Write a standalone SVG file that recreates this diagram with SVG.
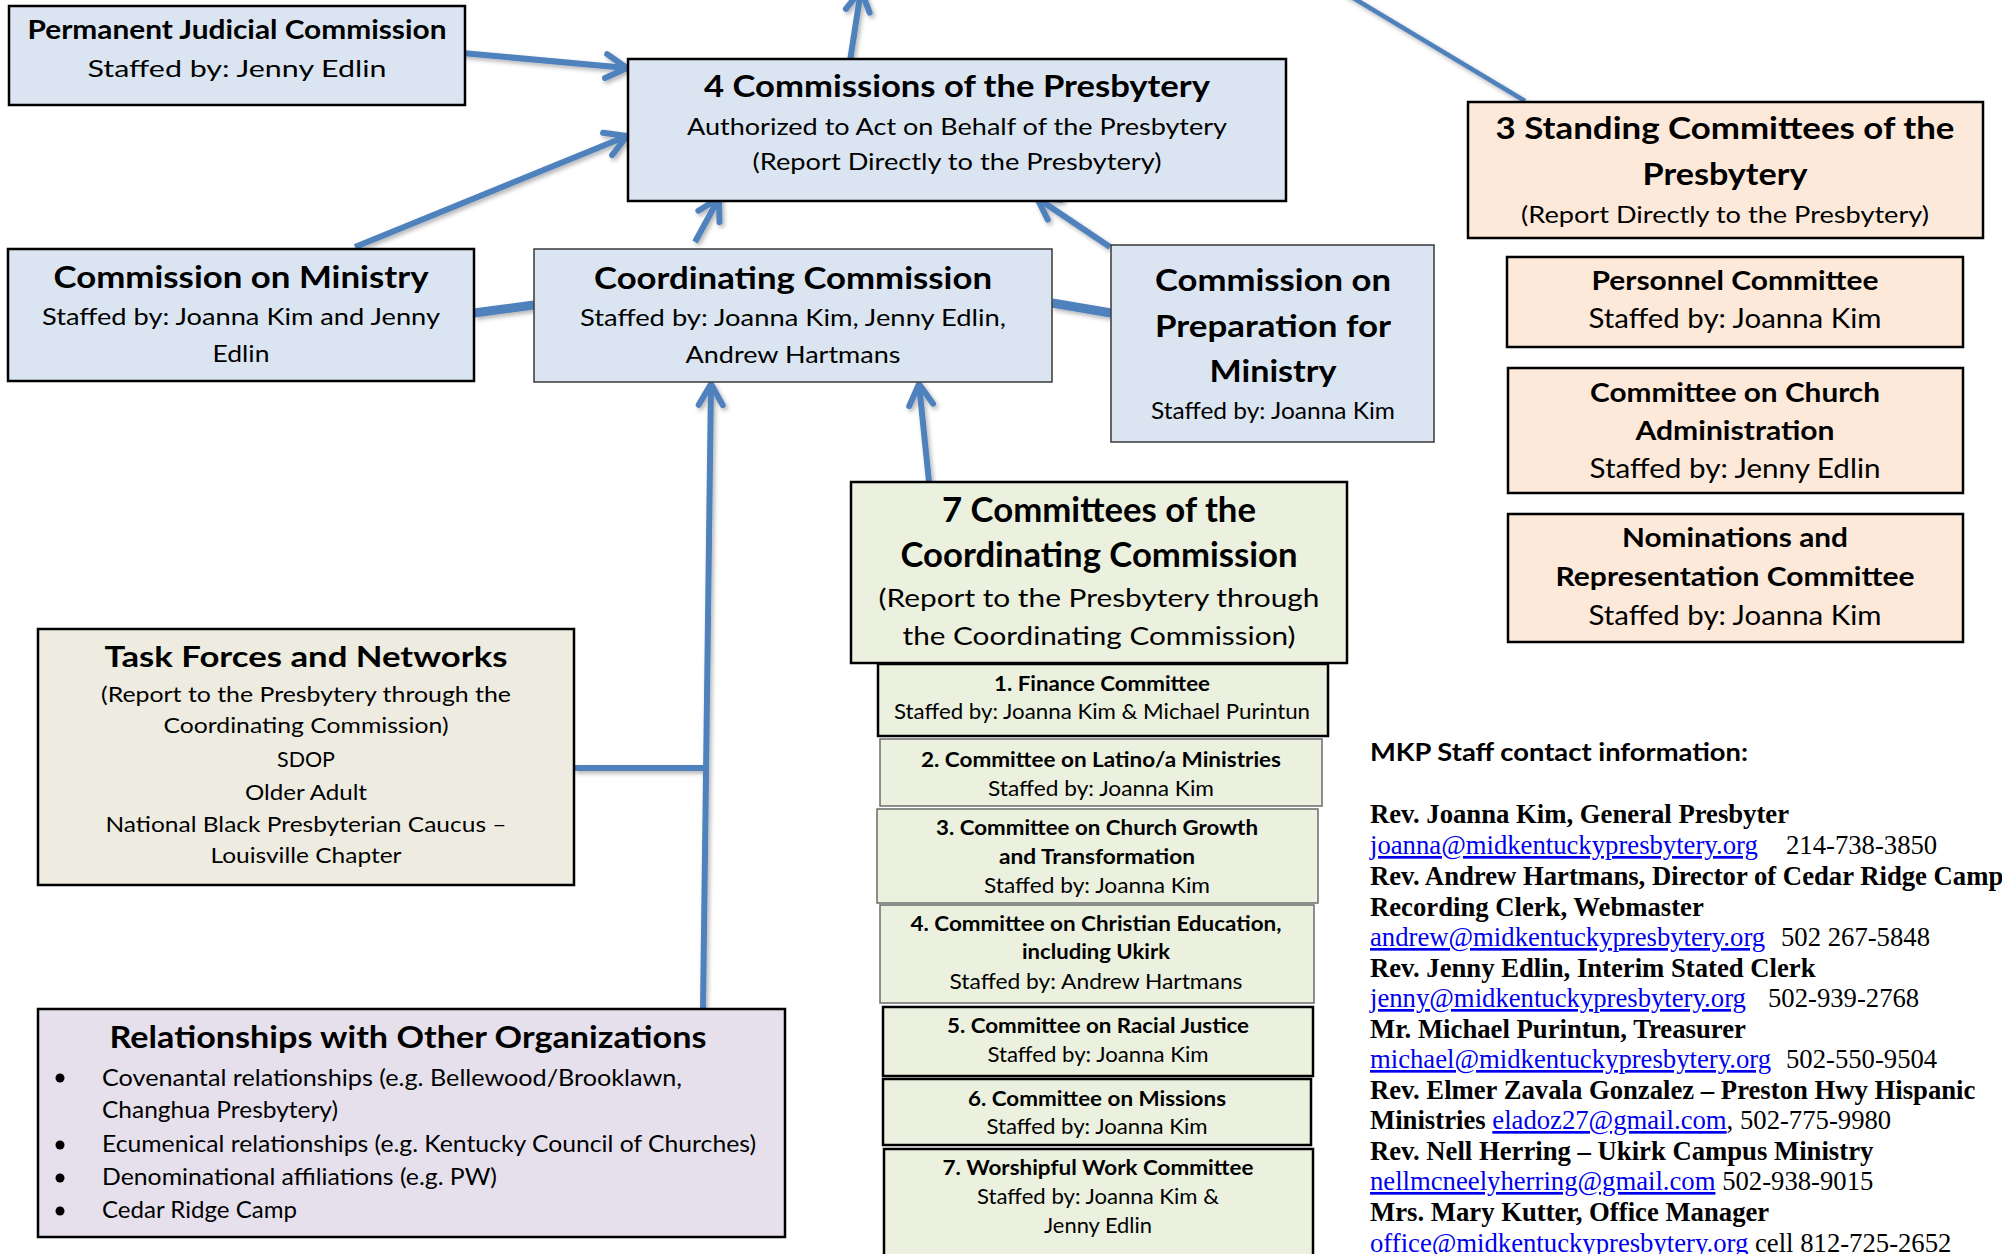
<svg xmlns="http://www.w3.org/2000/svg" width="2002" height="1254" viewBox="0 0 2002 1254">
<style>
.bg{fill:#ffffff}
.blue{fill:#DBE5F1;stroke:#000;stroke-width:2.5}
.blue2{fill:#DBE5F1;stroke:#3a3a3a;stroke-width:1.5}
.peach{fill:#FDE9D9;stroke:#000;stroke-width:2.5}
.green{fill:#EBF1DE;stroke:#000;stroke-width:2.5}
.green2{fill:#EBF1DE;stroke:#6b6b6b;stroke-width:1.5}
.tan{fill:#EEECE1;stroke:#000;stroke-width:2.5}
.lav{fill:#E5E0EC;stroke:#000;stroke-width:2.5}
text{font-family:Lato,"Open Sans","Liberation Sans",sans-serif;fill:#000}
.c{text-anchor:middle}
.b{font-weight:bold}
.ser{font-family:"Liberation Serif","Times New Roman",serif;font-size:26.7px}
.lnk{fill:#0000EE;text-decoration:underline}
.con{fill:none;stroke:#4F81BD;stroke-width:6;stroke-linecap:butt}
.thick{stroke-width:9}
.thin{stroke-width:4.5}
</style>
<defs>
<marker id="ah" markerUnits="userSpaceOnUse" markerWidth="40" markerHeight="40" refX="0" refY="0" orient="auto" overflow="visible">
<path d="M-21,-12 L0,0 L-21,12" fill="none" stroke="#4F81BD" stroke-width="6" stroke-linejoin="round" stroke-linecap="round"/>
</marker>
<filter id="sh" x="-20%" y="-20%" width="140%" height="140%">
<feDropShadow dx="2" dy="2.5" stdDeviation="2" flood-color="#000" flood-opacity="0.3"/>
</filter>
</defs>
<rect class="bg" x="0" y="0" width="2002" height="1254"/>

<g id="connectors" filter="url(#sh)">
<line class="con" x1="462" y1="53" x2="627" y2="68" marker-end="url(#ah)"/>
<line class="con" x1="355" y1="247" x2="627" y2="136" marker-end="url(#ah)"/>
<line class="con" x1="695" y1="242" x2="719" y2="198" marker-end="url(#ah)"/>
<line class="con" x1="1110" y1="247" x2="1037" y2="198" marker-end="url(#ah)"/>
<line class="con" x1="850" y1="61" x2="861" y2="-10" marker-end="url(#ah)"/>
<line class="con thin" x1="1525" y1="101" x2="1340" y2="-10"/>
<line class="con thick" x1="474" y1="313" x2="534" y2="305"/>
<line class="con thick" x1="1052" y1="303" x2="1111" y2="313"/>
<line class="con" x1="703" y1="1009" x2="711" y2="384" marker-end="url(#ah)"/>
<line class="con" x1="574" y1="768" x2="706" y2="768"/>
<line class="con" x1="929" y1="482" x2="919" y2="384" marker-end="url(#ah)"/>
</g>

<g id="pjc">
<rect class="blue" x="9" y="6" width="456" height="99"/>
<text class="c b" x="237" y="39" font-size="27" textLength="419" lengthAdjust="spacingAndGlyphs">Permanent Judicial Commission</text>
<text class="c" x="237" y="77" font-size="24" textLength="299" lengthAdjust="spacingAndGlyphs">Staffed by:  Jenny Edlin</text>
</g>

<g id="four-commissions">
<rect class="blue" x="628" y="59" width="658" height="142"/>
<text class="c b" x="957" y="97" font-size="30" textLength="506" lengthAdjust="spacingAndGlyphs">4 Commissions of the Presbytery</text>
<text class="c" x="957" y="135" font-size="24" textLength="540" lengthAdjust="spacingAndGlyphs">Authorized to Act on Behalf of the Presbytery</text>
<text class="c" x="957" y="170" font-size="24" textLength="409" lengthAdjust="spacingAndGlyphs">(Report Directly to the Presbytery)</text>
</g>

<g id="commission-ministry">
<rect class="blue" x="8" y="249" width="466" height="132"/>
<text class="c b" x="241" y="288" font-size="30.5" textLength="375" lengthAdjust="spacingAndGlyphs">Commission on Ministry</text>
<text class="c" x="241" y="325" font-size="24" textLength="398" lengthAdjust="spacingAndGlyphs">Staffed by: Joanna Kim and Jenny</text>
<text class="c" x="241" y="362" font-size="24" textLength="57" lengthAdjust="spacingAndGlyphs">Edlin</text>
</g>

<g id="coordinating">
<rect class="blue2" x="534" y="249" width="518" height="133"/>
<text class="c b" x="793" y="289" font-size="30.5" textLength="398" lengthAdjust="spacingAndGlyphs">Coordinating Commission</text>
<text class="c" x="793" y="326" font-size="24" textLength="426" lengthAdjust="spacingAndGlyphs">Staffed by: Joanna Kim, Jenny Edlin,</text>
<text class="c" x="793" y="363" font-size="24" textLength="215" lengthAdjust="spacingAndGlyphs">Andrew Hartmans</text>
</g>

<g id="preparation">
<rect class="blue2" x="1111" y="245" width="323" height="197"/>
<text class="c b" x="1273" y="291" font-size="30.5" textLength="236" lengthAdjust="spacingAndGlyphs">Commission on</text>
<text class="c b" x="1273" y="337" font-size="30.5" textLength="236" lengthAdjust="spacingAndGlyphs">Preparation for</text>
<text class="c b" x="1273" y="382" font-size="30.5" textLength="127" lengthAdjust="spacingAndGlyphs">Ministry</text>
<text class="c" x="1273" y="419" font-size="23" textLength="244" lengthAdjust="spacingAndGlyphs">Staffed by: Joanna Kim</text>
</g>

<g id="standing">
<rect class="peach" x="1468" y="102" width="515" height="136"/>
<text class="c b" x="1725" y="139" font-size="29.5" textLength="459" lengthAdjust="spacingAndGlyphs">3 Standing Committees of the</text>
<text class="c b" x="1725" y="185" font-size="29.5" textLength="165" lengthAdjust="spacingAndGlyphs">Presbytery</text>
<text class="c" x="1725" y="223" font-size="23" textLength="408" lengthAdjust="spacingAndGlyphs">(Report Directly to the Presbytery)</text>
</g>

<g id="personnel">
<rect class="peach" x="1507" y="257" width="456" height="90"/>
<text class="c b" x="1735" y="290" font-size="26" textLength="287" lengthAdjust="spacingAndGlyphs">Personnel Committee</text>
<text class="c" x="1735" y="328" font-size="26" textLength="293" lengthAdjust="spacingAndGlyphs">Staffed by: Joanna Kim</text>
</g>

<g id="church-administration">
<rect class="peach" x="1508" y="368" width="455" height="125"/>
<text class="c b" x="1735" y="402" font-size="26" textLength="290" lengthAdjust="spacingAndGlyphs">Committee on Church</text>
<text class="c b" x="1735" y="440" font-size="26" textLength="199" lengthAdjust="spacingAndGlyphs">Administration</text>
<text class="c" x="1735" y="478" font-size="26" textLength="291" lengthAdjust="spacingAndGlyphs">Staffed by: Jenny Edlin</text>
</g>

<g id="nominations">
<rect class="peach" x="1508" y="514" width="455" height="128"/>
<text class="c b" x="1735" y="547" font-size="26" textLength="226" lengthAdjust="spacingAndGlyphs">Nominations and</text>
<text class="c b" x="1735" y="586" font-size="26" textLength="359" lengthAdjust="spacingAndGlyphs">Representation Committee</text>
<text class="c" x="1735" y="625" font-size="26" textLength="293" lengthAdjust="spacingAndGlyphs">Staffed by: Joanna Kim</text>
</g>

<g id="seven-committees">
<rect class="green" x="851" y="482" width="496" height="181"/>
<text class="c b" x="1099" y="522" font-size="33.5" textLength="314" lengthAdjust="spacingAndGlyphs">7 Committees of the</text>
<text class="c b" x="1099" y="567" font-size="33.5" textLength="397" lengthAdjust="spacingAndGlyphs">Coordinating Commission</text>
<text class="c" x="1099" y="607" font-size="25" textLength="441" lengthAdjust="spacingAndGlyphs">(Report to the Presbytery through</text>
<text class="c" x="1099" y="645" font-size="25" textLength="393" lengthAdjust="spacingAndGlyphs">the Coordinating Commission)</text>
</g>

<g id="finance">
<rect class="green" x="878" y="664" width="450" height="72"/>
<text class="c b" x="1102" y="691" font-size="21" textLength="216" lengthAdjust="spacingAndGlyphs">1. Finance Committee</text>
<text class="c" x="1102" y="719" font-size="21" textLength="416" lengthAdjust="spacingAndGlyphs">Staffed by: Joanna Kim &amp; Michael Purintun</text>
</g>

<g id="latino">
<rect class="green2" x="880" y="739" width="442" height="67"/>
<text class="c b" x="1101" y="767" font-size="21" textLength="360" lengthAdjust="spacingAndGlyphs">2. Committee on Latino/a Ministries</text>
<text class="c" x="1101" y="796" font-size="21" textLength="226" lengthAdjust="spacingAndGlyphs">Staffed by:  Joanna Kim</text>
</g>

<g id="church-growth">
<rect class="green2" x="877" y="809" width="441" height="94"/>
<text class="c b" x="1097" y="835" font-size="21" textLength="322" lengthAdjust="spacingAndGlyphs">3. Committee on Church Growth</text>
<text class="c b" x="1097" y="864" font-size="21" textLength="196" lengthAdjust="spacingAndGlyphs">and Transformation</text>
<text class="c" x="1097" y="893" font-size="21" textLength="226" lengthAdjust="spacingAndGlyphs">Staffed by:  Joanna Kim</text>
</g>

<g id="christian-education">
<rect class="green2" x="880" y="905" width="434" height="98"/>
<text class="c b" x="1096" y="931" font-size="21" textLength="371" lengthAdjust="spacingAndGlyphs">4. Committee on Christian Education,</text>
<text class="c b" x="1096" y="959" font-size="21" textLength="148" lengthAdjust="spacingAndGlyphs">including Ukirk</text>
<text class="c" x="1096" y="989" font-size="21" textLength="293" lengthAdjust="spacingAndGlyphs">Staffed by:  Andrew Hartmans</text>
</g>

<g id="racial-justice">
<rect class="green" x="883" y="1007" width="430" height="69"/>
<text class="c b" x="1098" y="1033" font-size="21" textLength="302" lengthAdjust="spacingAndGlyphs">5. Committee on Racial Justice</text>
<text class="c" x="1098" y="1062" font-size="21" textLength="221" lengthAdjust="spacingAndGlyphs">Staffed by: Joanna Kim</text>
</g>

<g id="missions">
<rect class="green" x="883" y="1079" width="428" height="66"/>
<text class="c b" x="1097" y="1106" font-size="21" textLength="258" lengthAdjust="spacingAndGlyphs">6. Committee on Missions</text>
<text class="c" x="1097" y="1134" font-size="21" textLength="221" lengthAdjust="spacingAndGlyphs">Staffed by: Joanna Kim</text>
</g>

<g id="worshipful-work">
<rect class="green" x="884" y="1149" width="429" height="130"/>
<text class="c b" x="1098" y="1175" font-size="21" textLength="311" lengthAdjust="spacingAndGlyphs">7. Worshipful Work Committee</text>
<text class="c" x="1098" y="1204" font-size="21" textLength="242" lengthAdjust="spacingAndGlyphs">Staffed by: Joanna Kim &amp;</text>
<text class="c" x="1098" y="1233" font-size="21" textLength="108" lengthAdjust="spacingAndGlyphs">Jenny Edlin</text>
</g>

<g id="task-forces">
<rect class="tan" x="38" y="629" width="536" height="256"/>
<text class="c b" x="306" y="667" font-size="29" textLength="403" lengthAdjust="spacingAndGlyphs">Task Forces and Networks</text>
<text class="c" x="306" y="702" font-size="21.5" textLength="410" lengthAdjust="spacingAndGlyphs">(Report to the Presbytery through the</text>
<text class="c" x="306" y="733" font-size="21.5" textLength="285" lengthAdjust="spacingAndGlyphs">Coordinating Commission)</text>
<text class="c" x="306" y="767" font-size="21.5" textLength="58" lengthAdjust="spacingAndGlyphs">SDOP</text>
<text class="c" x="306" y="800" font-size="21.5" textLength="122" lengthAdjust="spacingAndGlyphs">Older Adult</text>
<text class="c" x="306" y="832" font-size="21.5" textLength="401" lengthAdjust="spacingAndGlyphs">National Black Presbyterian Caucus –</text>
<text class="c" x="306" y="863" font-size="21.5" textLength="191" lengthAdjust="spacingAndGlyphs">Louisville Chapter</text>
</g>

<g id="relationships">
<rect class="lav" x="38" y="1009" width="747" height="228"/>
<text class="c b" x="408" y="1048" font-size="30" textLength="597" lengthAdjust="spacingAndGlyphs">Relationships with Other Organizations</text>
<circle cx="60" cy="1078" r="4.5"/>
<circle cx="60" cy="1145" r="4.5"/>
<circle cx="60" cy="1178" r="4.5"/>
<circle cx="60" cy="1211" r="4.5"/>
<text x="102" y="1086" font-size="22.5" textLength="580" lengthAdjust="spacingAndGlyphs">Covenantal relationships (e.g. Bellewood/Brooklawn,</text>
<text x="102" y="1118" font-size="22.5" textLength="236" lengthAdjust="spacingAndGlyphs">Changhua Presbytery)</text>
<text x="102" y="1152" font-size="22.5" textLength="654" lengthAdjust="spacingAndGlyphs">Ecumenical relationships (e.g. Kentucky Council of Churches)</text>
<text x="102" y="1185" font-size="22.5" textLength="395" lengthAdjust="spacingAndGlyphs">Denominational affiliations (e.g. PW)</text>
<text x="102" y="1218" font-size="22.5" textLength="195" lengthAdjust="spacingAndGlyphs">Cedar Ridge Camp</text>
</g>

<g id="contacts">
<text class="b" x="1370" y="761" font-size="24" textLength="378" lengthAdjust="spacingAndGlyphs">MKP Staff contact information:</text>
<text class="ser b" x="1370" y="823">Rev. Joanna Kim, General Presbyter</text>
<text class="ser" x="1370" y="854"><tspan class="lnk">joanna@midkentuckypresbytery.org</tspan><tspan x="1786">214-738-3850</tspan></text>
<text class="ser b" x="1370" y="885">Rev. Andrew Hartmans, Director of Cedar Ridge Camp</text>
<text class="ser b" x="1370" y="916">Recording Clerk, Webmaster</text>
<text class="ser" x="1370" y="946"><tspan class="lnk">andrew@midkentuckypresbytery.org</tspan><tspan x="1781">502 267-5848</tspan></text>
<text class="ser b" x="1370" y="977">Rev. Jenny Edlin, Interim Stated Clerk</text>
<text class="ser" x="1370" y="1007"><tspan class="lnk">jenny@midkentuckypresbytery.org</tspan><tspan x="1768">502-939-2768</tspan></text>
<text class="ser b" x="1370" y="1038">Mr. Michael Purintun, Treasurer</text>
<text class="ser" x="1370" y="1068"><tspan class="lnk">michael@midkentuckypresbytery.org</tspan><tspan x="1786">502-550-9504</tspan></text>
<text class="ser b" x="1370" y="1099">Rev. Elmer Zavala Gonzalez – Preston Hwy Hispanic</text>
<text class="ser" x="1370" y="1129"><tspan font-weight="bold">Ministries</tspan> <tspan class="lnk">eladoz27@gmail.com</tspan>, 502-775-9980</text>
<text class="ser b" x="1370" y="1160">Rev. Nell Herring – Ukirk Campus Ministry</text>
<text class="ser" x="1370" y="1190"><tspan class="lnk">nellmcneelyherring@gmail.com</tspan> 502-938-9015</text>
<text class="ser b" x="1370" y="1221">Mrs. Mary Kutter, Office Manager</text>
<text class="ser" x="1370" y="1252"><tspan class="lnk">office@midkentuckypresbytery.org</tspan> cell 812-725-2652</text>
</g>
</svg>
